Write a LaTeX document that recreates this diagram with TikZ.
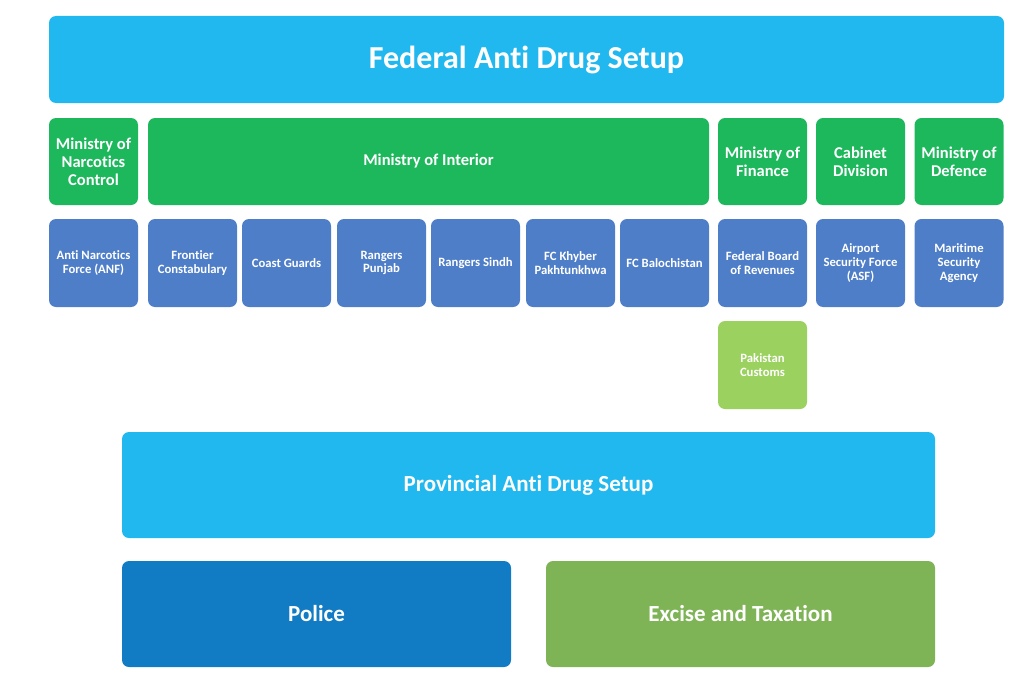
\documentclass[tikz,border=0pt]{standalone}
\usepackage{fontspec}
\setmainfont{Carlito}[Ligatures={NoCommon}]
\usepackage{xcolor}
\usepackage{tikz}
\usetikzlibrary{positioning}
\definecolor{ksky}{HTML}{21B8EF}
\definecolor{kgreen}{HTML}{1DB85C}
\definecolor{kblue}{HTML}{4F7EC8}
\definecolor{klime}{HTML}{9BD15F}
\definecolor{kpolice}{HTML}{117CC4}
\definecolor{kolive}{HTML}{7EB356}

\tikzset{
  box/.style={rounded corners=7pt, inner sep=0pt, align=center, text=white,
    font=\bfseries},
  headbox/.style={box, fill=ksky, font=\fontsize{32}{36}\selectfont\bfseries},
  minbox/.style={box, fill=kgreen, minimum width=89pt, minimum height=87pt,
    font=\fontsize{16.5}{18}\selectfont\bfseries},
  unitbox/.style={box, fill=kblue, minimum width=89pt, minimum height=88pt,
    font=\fontsize{12.7}{13.8}\selectfont\bfseries},
  provbox/.style={box, minimum width=389pt, minimum height=106pt,
    font=\fontsize{23}{26}\selectfont\bfseries}
}

\begin{document}
\begin{tikzpicture}[x=1pt, y=-1pt]
\useasboundingbox (0,0) rectangle (1024,685);
% federal level
\node[headbox, minimum width=955pt, minimum height=87pt] (federal) at (526.5,59.5) {Federal Anti Drug Setup};
% ministries
\node[minbox] (narcotics) at (93.5,161.5) {Ministry of\\Narcotics\\Control};
\node[minbox, minimum width=561pt] (interior) at (428.5,161.5) {Ministry of Interior};
\node[minbox] (finance) at (762.5,161.5) {Ministry of\\Finance};
\node[minbox] (cabinet) at (860.5,161.5) {Cabinet\\Division};
\node[minbox] (defence) at (959,161.5) {Ministry of\\Defence};
% forces and agencies
\node[unitbox] (anf) at (93.5,263) {Anti Narcotics\\Force (ANF)};
\node[unitbox] (fc) at (192.5,263) {Frontier\\Constabulary};
\node[unitbox] (coast) at (286.5,263) {Coast Guards};
\node[unitbox] (rpunjab) at (381.5,263) {Rangers\\Punjab};
\node[unitbox] (rsindh) at (475.5,263) {Rangers Sindh};
\node[unitbox] (fckp) at (570.5,263) {FC Khyber\\Pakhtunkhwa};
\node[unitbox] (fcbal) at (664.5,263) {FC Balochistan};
\node[unitbox] (fbr) at (762.5,263) {Federal Board\\of Revenues};
\node[unitbox] (asf) at (860.5,263) {Airport\\Security Force\\(ASF)};
\node[unitbox] (msa) at (959,263) {Maritime\\Security\\Agency};
\node[unitbox, fill=klime] (customs) at (762.5,365) {Pakistan\\Customs};
% provincial level
\node[provbox, fill=ksky, minimum width=813pt] (provincial) at (528.5,485) {Provincial Anti Drug Setup};
\node[provbox, fill=kpolice] (police) at (316.5,614) {Police};
\node[provbox, fill=kolive] (excise) at (740.5,614) {Excise and Taxation};
\end{tikzpicture}
\end{document}
